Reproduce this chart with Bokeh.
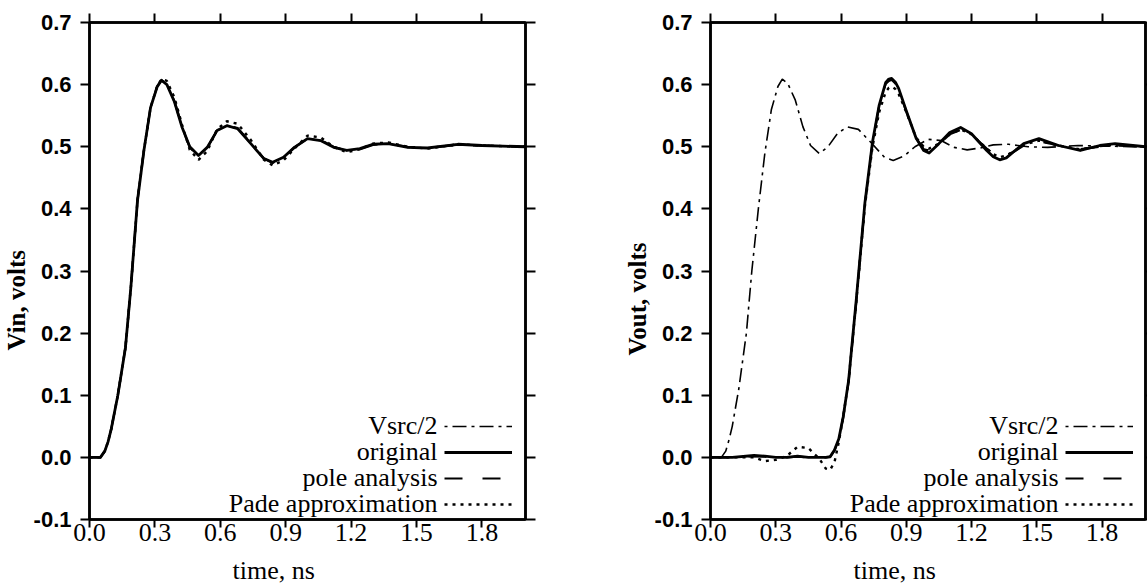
from bokeh.plotting import figure
from bokeh.layouts import row
from bokeh.models import (Range1d, LinearAxis, FixedTicker, NumeralTickFormatter,
                          CustomJSTickFormatter, Label, Legend, LegendItem, Title)
from bokeh.embed import file_html
from bokeh.resources import INLINE

# ---------------- data ----------------
t_in = [0.0, 0.05, 0.07, 0.085, 0.1, 0.13, 0.165, 0.19, 0.22, 0.25, 0.28, 0.31, 0.33, 0.355,
        0.39, 0.425, 0.46, 0.5, 0.54, 0.585, 0.63, 0.68, 0.74, 0.8, 0.84, 0.89, 0.94, 1.0,
        1.06, 1.12, 1.18, 1.24, 1.3, 1.37, 1.46, 1.55, 1.69, 1.8, 2.0]
vin_original = [0.0, 0.0, 0.01, 0.025, 0.046, 0.10, 0.177, 0.275, 0.413, 0.495, 0.563, 0.596,
                0.607, 0.600, 0.572, 0.531, 0.500, 0.486, 0.499, 0.526, 0.534, 0.529, 0.505,
                0.481, 0.475, 0.483, 0.499, 0.513, 0.510, 0.499, 0.494, 0.497, 0.504, 0.505,
                0.499, 0.498, 0.504, 0.502, 0.500]
vin_pole = [0.0, 0.0, 0.01, 0.025, 0.046, 0.10, 0.177, 0.275, 0.413, 0.495, 0.563, 0.597,
            0.607, 0.601, 0.573, 0.531, 0.499, 0.485, 0.498, 0.526, 0.535, 0.530, 0.506,
            0.481, 0.474, 0.482, 0.499, 0.513, 0.511, 0.500, 0.494, 0.496, 0.503, 0.505,
            0.500, 0.498, 0.503, 0.502, 0.500]
vin_pade = [0.0, 0.0, 0.01, 0.025, 0.046, 0.10, 0.177, 0.275, 0.413, 0.495, 0.563, 0.597,
            0.609, 0.606, 0.579, 0.535, 0.495, 0.479, 0.493, 0.528, 0.541, 0.537, 0.511,
            0.479, 0.470, 0.478, 0.497, 0.518, 0.515, 0.500, 0.491, 0.496, 0.505, 0.507,
            0.500, 0.497, 0.504, 0.502, 0.500]

t_src = [0.0, 0.05, 0.07, 0.085, 0.1, 0.13, 0.165, 0.19, 0.22, 0.25, 0.28, 0.31, 0.33, 0.355,
         0.39, 0.425, 0.46, 0.5, 0.54, 0.585, 0.63, 0.68, 0.74, 0.8, 0.84, 0.89, 0.94, 1.0,
         1.06, 1.12, 1.18, 1.24, 1.3, 1.37, 1.46, 1.55, 1.69, 1.8, 2.0]
vsrc_half = [0.0, 0.0, 0.01, 0.028, 0.05, 0.11, 0.20, 0.30, 0.40, 0.49, 0.56, 0.597, 0.609,
             0.602, 0.575, 0.532, 0.502, 0.489, 0.500, 0.522, 0.532, 0.528, 0.506, 0.483,
             0.478, 0.485, 0.500, 0.512, 0.510, 0.499, 0.495, 0.498, 0.503, 0.504, 0.500,
             0.499, 0.502, 0.501, 0.500]

t_out = [0.0, 0.1, 0.2, 0.25, 0.3, 0.35, 0.4, 0.45, 0.5, 0.53, 0.55, 0.57, 0.59, 0.61, 0.635,
         0.67, 0.71, 0.745, 0.775, 0.805, 0.82, 0.833, 0.85, 0.865, 0.9, 0.945, 0.98, 1.005,
         1.05, 1.1, 1.15, 1.2, 1.27, 1.3, 1.33, 1.36, 1.39, 1.44, 1.51, 1.6, 1.7, 1.79, 1.86,
         2.0]
vout_original = [0.0, 0.0, 0.003, 0.002, 0.0, 0.0, 0.002, 0.0, 0.0, 0.0, 0.001, 0.012, 0.03,
                 0.065, 0.124, 0.253, 0.41, 0.508, 0.566, 0.603, 0.609, 0.610, 0.604, 0.594,
                 0.558, 0.514, 0.494, 0.490, 0.505, 0.523, 0.531, 0.521, 0.494, 0.484, 0.479,
                 0.482, 0.491, 0.505, 0.513, 0.502, 0.494, 0.502, 0.505, 0.500]
vout_pole = [0.0, 0.0, 0.002, 0.001, 0.0, 0.0, 0.001, 0.0, 0.0, 0.0, 0.001, 0.011, 0.029,
             0.064, 0.122, 0.25, 0.408, 0.506, 0.565, 0.601, 0.606, 0.608, 0.602, 0.593,
             0.557, 0.514, 0.496, 0.494, 0.504, 0.520, 0.527, 0.520, 0.497, 0.489, 0.484,
             0.486, 0.491, 0.502, 0.509, 0.502, 0.496, 0.500, 0.502, 0.500]
vout_pade = [0.0, 0.0, 0.0, -0.006, -0.004, 0.002, 0.017, 0.015, -0.002, -0.018, -0.02,
             -0.008, 0.025, 0.065, 0.124, 0.25, 0.405, 0.5, 0.555, 0.588, 0.595, 0.597, 0.593,
             0.585, 0.556, 0.515, 0.5, 0.497, 0.505, 0.52, 0.528, 0.52, 0.497, 0.488, 0.483,
             0.486, 0.492, 0.503, 0.51, 0.502, 0.496, 0.501, 0.503, 0.5]

x_ticks = [0.0, 0.3, 0.6, 0.9, 1.2, 1.5, 1.8]
y_ticks = [-0.1, 0.0, 0.1, 0.2, 0.3, 0.4, 0.5, 0.6, 0.7]
series_names = ["Vsrc/2", "original", "pole analysis", "Pade approximation"]
x_title = "time, ns"
y_titles = ["Vin, volts", "Vout, volts"]

# ---------------- styles ----------------
SERIF = "Liberation Serif"
STYLE = {
    "Vsrc/2": dict(line_width=1.6, line_dash="3 5 14 5"),
    "original": dict(line_width=2.8, line_dash="solid", line_join="round"),
    "pole analysis": dict(line_width=2.2, line_dash="18 20"),
    "Pade approximation": dict(line_width=2.4, line_dash="3 5"),
}


def style_axis(ax, ticks, tick_out):
    ax.ticker = FixedTicker(ticks=ticks)
    ax.axis_line_width = 2.5
    ax.axis_line_color = "black"
    ax.major_tick_line_width = 2
    ax.major_tick_line_color = "black"
    ax.major_tick_in = 0
    ax.major_tick_out = tick_out
    ax.minor_tick_line_color = None


def blank_axis(ticks, tick_out):
    ax = LinearAxis()
    style_axis(ax, ticks, tick_out)
    ax.formatter = CustomJSTickFormatter(code="return ''")
    ax.major_label_text_font_size = "0px"
    ax.major_label_standoff = 0
    return ax


def make_panel(series, ytitle, width, min_left, min_right, right_tick_out, ytitle_off, xtitle_off):
    p = figure(width=width, height=586, min_border_left=min_left, min_border_right=min_right,
               min_border_top=22, min_border_bottom=67,
               x_range=Range1d(0, 2.0), y_range=Range1d(-0.1, 0.7),
               output_backend="svg", toolbar_location=None, tools="")
    p.xgrid.visible = False
    p.ygrid.visible = False
    p.outline_line_color = "black"
    p.outline_line_width = 2.5
    p.background_fill_color = "white"
    p.border_fill_color = "white"

    xa = p.xaxis[0]
    style_axis(xa, x_ticks, 8)
    xa.formatter = NumeralTickFormatter(format="0.0")
    xa.major_label_text_font = SERIF
    xa.major_label_text_font_size = "26px"
    xa.major_label_text_color = "black"
    xa.major_label_standoff = -4
    # small spacer between the tick labels and the title below
    xa.axis_label = " "
    xa.axis_label_text_font_size = "1px"
    xa.axis_label_standoff = 7

    ya = p.yaxis[0]
    style_axis(ya, y_ticks, 9)
    ya.formatter = NumeralTickFormatter(format="0.0")
    ya.major_label_text_font = "Liberation Sans"
    ya.major_label_text_font_style = "bold"
    ya.major_label_text_font_size = "22px"
    ya.major_label_text_color = "black"
    ya.major_label_standoff = 9

    p.add_layout(blank_axis(x_ticks, 9), "above")
    p.add_layout(blank_axis(y_ticks, right_tick_out), "right")

    # axis titles as Titles in the side panels (offset like the reference)
    p.add_layout(Title(text=ytitle, align="left", offset=ytitle_off, standoff=0,
                       vertical_align="middle", text_font=SERIF, text_font_style="bold",
                       text_font_size="25px", text_color="black"), "left")
    p.add_layout(Title(text=x_title, align="left", offset=xtitle_off, standoff=0,
                       vertical_align="middle", text_font=SERIF, text_font_style="normal",
                       text_font_size="26px", text_color="black"), "below")

    items = []
    for name, (t, v) in zip(series_names, series):
        r = p.line(t, v, line_color="black", **STYLE[name])
        items.append(LegendItem(label=" ", renderers=[r]))

    # legend: line samples (drawn by Bokeh's legend) to the right of right-aligned names
    leg = Legend(items=items, location=(355, 2), orientation="vertical",
                 glyph_width=68, glyph_height=26, label_height=26, label_width=0,
                 label_standoff=0, padding=0, spacing=0, margin=0,
                 border_line_color=None, background_fill_alpha=0,
                 label_text_font_size="1px")
    p.add_layout(leg)
    for i, name in enumerate(series_names):
        p.add_layout(Label(x=348, y=94 - 26 * i, x_units="screen", y_units="screen",
                           text=name, text_align="right", text_baseline="alphabetic",
                           text_font=SERIF, text_font_size="26px", text_color="black"))
    return p


p1 = make_panel([(t_in, vin_original), (t_in, vin_original), (t_in, vin_pole), (t_in, vin_pade)],
                y_titles[0], width=610, min_left=89, min_right=85, right_tick_out=10,
                ytitle_off=169, xtitle_off=143)
p2 = make_panel([(t_src, vsrc_half), (t_out, vout_original), (t_out, vout_pole), (t_out, vout_pade)],
                y_titles[1], width=537, min_left=100, min_right=2, right_tick_out=2,
                ytitle_off=164, xtitle_off=143)

layout = row(p1, p2, spacing=0)
open("out.html", "w").write(file_html(layout, INLINE))
